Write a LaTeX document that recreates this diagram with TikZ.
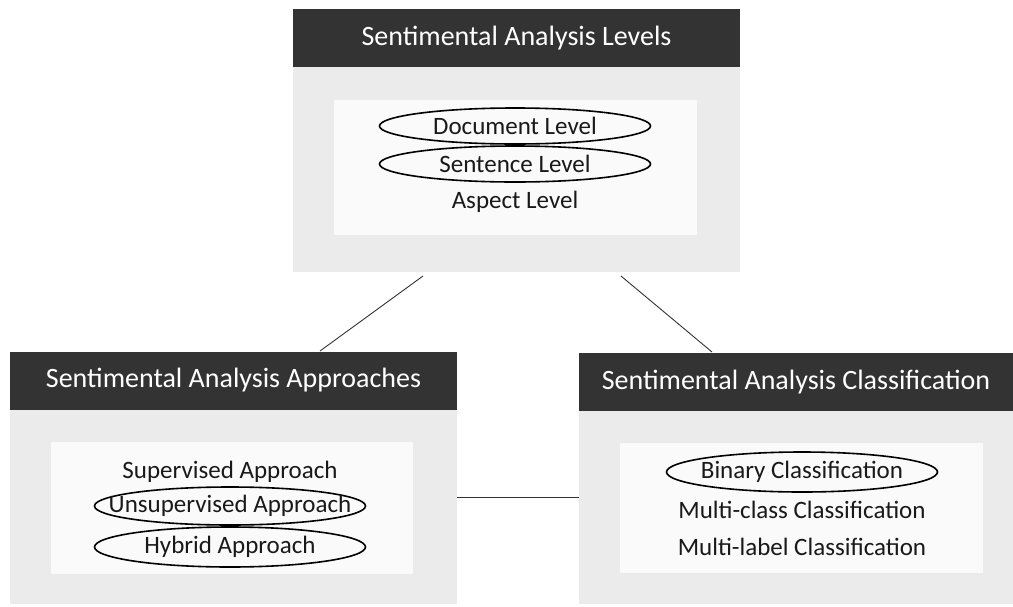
\documentclass[tikz,border=0pt]{standalone}
\usepackage{fontspec}
\setmainfont{Carlito}
\usetikzlibrary{shapes.geometric}
\definecolor{hdr}{HTML}{333333}
\definecolor{bodygray}{HTML}{EBEBEB}
\definecolor{innerw}{HTML}{FAFAFA}
\begin{document}
\begin{tikzpicture}[x=1pt,y=-1pt,
  hdrbox/.style={fill=hdr, text=white, font=\fontsize{28}{32}\selectfont, inner sep=0pt, minimum height=58pt},
  bodybox/.style={fill=bodygray, inner sep=0pt},
  innerbox/.style={fill=innerw, inner sep=0pt},
  item/.style={font=\fontsize{25}{28}\selectfont, inner sep=0pt, text=black!90},
  ring/.style={ellipse, draw=black, line width=1.6pt, inner sep=0pt, minimum width=271pt, minimum height=36pt,
     label={[item]center:#1}},
  link/.style={draw=black!80, line width=0.9pt}]
\useasboundingbox (0,0) rectangle (1013,606);
% top box
\node[bodybox, minimum width=447pt, minimum height=205pt] (b1) at (516.5,169.5) {};
\node[hdrbox, minimum width=447pt] (h1) at (516.5,38) {Sentimental Analysis Levels};
\node[innerbox, minimum width=363pt, minimum height=135pt] (i1) at (515.5,167.5) {};
\node[ring=Document Level] (doc) at (515,126) {};
\node[ring=Sentence Level] (sen) at (515,164) {};
\node[item] (asp) at (515,202) {Aspect Level};
% left box
\node[bodybox, minimum width=447pt, minimum height=195pt] (b2) at (233.5,506.5) {};
\node[hdrbox, minimum width=447pt] (h2) at (233.5,380.5) {Sentimental Analysis Approaches};
\node[innerbox, minimum width=362pt, minimum height=132pt] (i2) at (232,508) {};
\node[item] (sup) at (230,472) {Supervised Approach};
\node[ring=Unsupervised Approach, minimum height=38pt] (uns) at (230,506) {};
\node[ring=Hybrid Approach, minimum height=40pt] (hyb) at (230,547) {};
% right box
\node[bodybox, minimum width=434pt, minimum height=195pt] (b3) at (796,506.5) {};
\node[hdrbox, minimum width=434pt] (h3) at (796,382) {Sentimental Analysis Classification};
\node[innerbox, minimum width=363pt, minimum height=130pt] (i3) at (801.5,508) {};
\node[ring=Binary Classification, minimum height=40pt] (bin) at (802,472) {};
\node[item] (mcl) at (802,510) {Multi-class Classification};
\node[item] (mlb) at (802,547) {Multi-label Classification};
% connectors
\coordinate (c1a) at (423,276);
\coordinate (c1b) at (320,351);
\coordinate (c2a) at (621,276);
\coordinate (c2b) at (712,352);
\path[link] (c1a) -- (c1b);
\path[link] (c2a) -- (c2b);
\path[link] (b2.east |- 0,497) -- (b3.west |- 0,497);
\end{tikzpicture}
\end{document}
